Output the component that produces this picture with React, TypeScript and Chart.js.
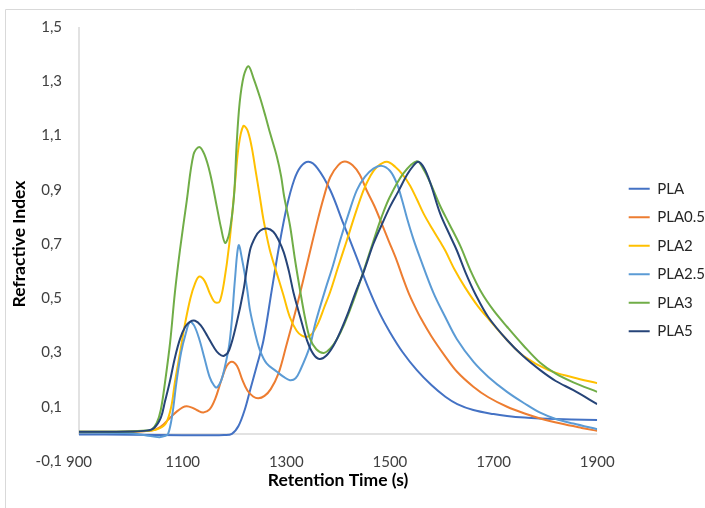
import { useEffect, useRef } from "react";
import { Chart, registerables } from "chart.js";

Chart.register(...registerables);

type Pt = [number, number];

// Retention time (s) vs refractive index, one array per sample
const PLA: Pt[] = [
  [900, -0.002], [1000, -0.003], [1100, -0.005], [1150, -0.005], [1180, -0.004], [1195, 0.0],
  [1208, 0.03], [1220, 0.09], [1230, 0.16], [1243, 0.25], [1256, 0.345], [1272, 0.53],
  [1286, 0.69], [1301, 0.837], [1315, 0.935], [1328, 0.985], [1343, 1.003], [1360, 0.98],
  [1385, 0.898], [1410, 0.776], [1436, 0.65], [1458, 0.54], [1480, 0.445], [1500, 0.375],
  [1525, 0.3], [1552, 0.235], [1580, 0.18], [1607, 0.137], [1630, 0.11], [1661, 0.088],
  [1700, 0.073], [1726, 0.066], [1760, 0.06], [1790, 0.057], [1850, 0.053], [1900, 0.051],
];

const PLA05: Pt[] = [
  [900, 0.005], [1000, 0.008], [1040, 0.012], [1052, 0.02], [1063, 0.035], [1076, 0.06],
  [1089, 0.083], [1100, 0.098], [1108, 0.102], [1118, 0.097], [1128, 0.087], [1140, 0.079],
  [1152, 0.09], [1163, 0.13], [1175, 0.2], [1185, 0.25], [1195, 0.266], [1205, 0.25],
  [1215, 0.2], [1225, 0.16], [1236, 0.138], [1246, 0.131], [1258, 0.14], [1270, 0.165],
  [1285, 0.223], [1300, 0.325], [1320, 0.468], [1340, 0.625], [1359, 0.776], [1372, 0.87],
  [1385, 0.947], [1400, 0.99], [1413, 1.004], [1428, 0.99], [1442, 0.955], [1455, 0.898],
  [1470, 0.84], [1484, 0.776], [1498, 0.71], [1513, 0.64], [1525, 0.575], [1536, 0.52],
  [1548, 0.47], [1560, 0.425], [1580, 0.36], [1607, 0.285], [1630, 0.228], [1661, 0.174],
  [1690, 0.135], [1726, 0.1], [1760, 0.075], [1790, 0.057], [1830, 0.038], [1870, 0.022],
  [1900, 0.011],
];

const PLA2: Pt[] = [
  [900, 0.008], [1000, 0.009], [1040, 0.012], [1055, 0.02], [1068, 0.04], [1078, 0.1],
  [1085, 0.19], [1095, 0.3], [1104, 0.4], [1115, 0.5], [1124, 0.555], [1132, 0.58],
  [1142, 0.565], [1152, 0.52], [1160, 0.49], [1166, 0.483], [1172, 0.49], [1180, 0.56],
  [1190, 0.7], [1200, 0.9], [1208, 1.06], [1217, 1.135], [1225, 1.12], [1233, 1.06],
  [1240, 0.98], [1249, 0.874], [1256, 0.79], [1268, 0.68], [1282, 0.59], [1294, 0.515],
  [1307, 0.43], [1320, 0.38], [1330, 0.362], [1340, 0.358], [1350, 0.37], [1362, 0.41],
  [1373, 0.465], [1385, 0.525], [1400, 0.615], [1417, 0.714], [1433, 0.81], [1449, 0.898],
  [1462, 0.95], [1475, 0.984], [1494, 1.003], [1510, 0.985], [1525, 0.955], [1539, 0.915],
  [1552, 0.865], [1565, 0.812], [1582, 0.755], [1597, 0.708], [1607, 0.675], [1625, 0.605],
  [1645, 0.54], [1670, 0.47], [1693, 0.418], [1726, 0.346], [1758, 0.287], [1806, 0.235],
  [1854, 0.208], [1900, 0.187],
];

const PLA25: Pt[] = [
  [900, 0.004], [1000, 0.002], [1030, -0.006], [1055, -0.012], [1065, -0.008], [1072, 0.0],
  [1080, 0.07], [1088, 0.19], [1097, 0.3], [1106, 0.37], [1114, 0.413], [1122, 0.4],
  [1132, 0.35], [1142, 0.28], [1152, 0.21], [1160, 0.18], [1166, 0.171], [1175, 0.2],
  [1183, 0.26], [1190, 0.33], [1195, 0.42], [1201, 0.57], [1208, 0.695], [1215, 0.64],
  [1224, 0.54], [1230, 0.456], [1240, 0.37], [1249, 0.309], [1262, 0.26], [1282, 0.229],
  [1295, 0.21], [1307, 0.198], [1318, 0.205], [1327, 0.235], [1345, 0.32], [1356, 0.407],
  [1375, 0.53], [1390, 0.62], [1404, 0.714], [1420, 0.81], [1436, 0.898], [1452, 0.948],
  [1468, 0.978], [1484, 0.988], [1500, 0.97], [1513, 0.925], [1523, 0.865], [1533, 0.795],
  [1545, 0.72], [1558, 0.65], [1584, 0.52], [1607, 0.43], [1629, 0.35], [1661, 0.266],
  [1690, 0.21], [1726, 0.155], [1760, 0.112], [1790, 0.078], [1820, 0.055], [1854, 0.038],
  [1900, 0.017],
];

const PLA3: Pt[] = [
  [900, 0.008], [1000, 0.009], [1030, 0.012], [1040, 0.015], [1050, 0.04], [1058, 0.09],
  [1066, 0.19], [1076, 0.34], [1085, 0.52], [1095, 0.68], [1108, 0.86], [1121, 1.03],
  [1132, 1.058], [1142, 1.03], [1153, 0.96], [1166, 0.837], [1174, 0.76], [1182, 0.704],
  [1190, 0.74], [1199, 0.874], [1204, 1.06], [1210, 1.22], [1218, 1.32], [1227, 1.355],
  [1237, 1.31], [1249, 1.242], [1260, 1.17], [1269, 1.107], [1282, 1.021], [1290, 0.95],
  [1296, 0.874], [1307, 0.77], [1317, 0.64], [1327, 0.525], [1337, 0.42], [1346, 0.35],
  [1358, 0.312], [1372, 0.298], [1385, 0.315], [1398, 0.35], [1412, 0.405], [1430, 0.493],
  [1450, 0.605], [1468, 0.71], [1484, 0.8], [1500, 0.874], [1526, 0.96], [1552, 1.005],
  [1565, 0.975], [1578, 0.925], [1597, 0.84], [1615, 0.772], [1636, 0.692], [1656, 0.6],
  [1677, 0.52], [1700, 0.455], [1726, 0.395], [1758, 0.325], [1790, 0.262], [1820, 0.222],
  [1854, 0.19], [1900, 0.155],
];

const PLA5: Pt[] = [
  [900, 0.008], [1000, 0.009], [1030, 0.012], [1045, 0.022], [1058, 0.06], [1066, 0.12],
  [1075, 0.19], [1085, 0.28], [1095, 0.35], [1105, 0.395], [1114, 0.413], [1124, 0.417],
  [1135, 0.4], [1148, 0.36], [1160, 0.32], [1170, 0.295], [1180, 0.288], [1190, 0.31],
  [1204, 0.407], [1217, 0.525], [1230, 0.677], [1240, 0.725], [1250, 0.75], [1263, 0.757],
  [1275, 0.745], [1285, 0.715], [1295, 0.67], [1305, 0.6], [1314, 0.52], [1327, 0.43],
  [1340, 0.345], [1352, 0.295], [1364, 0.276], [1377, 0.288], [1391, 0.325], [1405, 0.38],
  [1420, 0.45], [1433, 0.518], [1450, 0.6], [1468, 0.7], [1484, 0.77], [1500, 0.837],
  [1516, 0.893], [1533, 0.955], [1545, 0.988], [1555, 1.003], [1566, 0.98], [1578, 0.925],
  [1597, 0.812], [1615, 0.735], [1629, 0.677], [1647, 0.59], [1665, 0.515], [1690, 0.43],
  [1726, 0.346], [1758, 0.285], [1790, 0.235], [1820, 0.195], [1854, 0.161], [1900, 0.11],
];

const SERIES_NAMES = ["PLA", "PLA0.5", "PLA2", "PLA2.5", "PLA3", "PLA5"];
const SERIES_DATA = [PLA, PLA05, PLA2, PLA25, PLA3, PLA5];
const SERIES_COLORS = ["#4472C4", "#ED7D31", "#FFC000", "#5B9BD5", "#70AD47", "#264478"];

const X_TICKS = [900, 1100, 1300, 1500, 1700, 1900];
const Y_TICKS = [-0.1, 0.1, 0.3, 0.5, 0.7, 0.9, 1.1, 1.3, 1.5];

const X_TITLE = "Retention Time (s)";
const Y_TITLE = "Refractive Index";

const FONT = "Lato, 'Open Sans', sans-serif";
const AXIS_GREY = "#d9d9d9";

// Outer frame, and axis lines crossing at y = 0
const framePlugin = {
  id: "frame",
  beforeDraw(chart: any) {
    const { ctx } = chart;
    const xs = chart.scales.x;
    const ys = chart.scales.y;
    ctx.save();
    ctx.strokeStyle = AXIS_GREY;
    ctx.lineWidth = 1;
    ctx.beginPath();
    ctx.moveTo(5.5, chart.height);
    ctx.lineTo(5.5, 9.5);
    ctx.lineTo(chart.width, 9.5);
    ctx.stroke();

    const left = xs.getPixelForValue(X_TICKS[0]);
    const right = xs.getPixelForValue(X_TICKS[X_TICKS.length - 1]);
    const zero = ys.getPixelForValue(0);
    const top = ys.getPixelForValue(Y_TICKS[Y_TICKS.length - 1]);
    ctx.lineWidth = 1.5;
    ctx.beginPath();
    ctx.moveTo(left, top);
    ctx.lineTo(left, zero);
    ctx.lineTo(right, zero);
    ctx.stroke();
    ctx.restore();
  },
  afterLayout(chart: any) {
    const lg = chart.legend;
    if (!lg) return;
    lg.top += 16;
    lg.bottom += 16;
    lg.left += 18;
    lg.right += 18;
  },
};

export default function App() {
  const canvasRef = useRef<HTMLCanvasElement | null>(null);

  useEffect(() => {
    const canvas = canvasRef.current;
    if (!canvas) return;

    const datasets = SERIES_NAMES.map((name, i) => ({
      label: name,
      data: SERIES_DATA[i].map(([x, y]) => ({ x, y })),
      borderColor: SERIES_COLORS[i],
      backgroundColor: SERIES_COLORS[i],
      borderWidth: 2,
      pointRadius: 0,
      fill: false,
      tension: 0.35,
      order: SERIES_NAMES.length - i,
    }));

    const chart = new Chart(canvas, {
      type: "line",
      data: { datasets },
      plugins: [framePlugin],
      options: {
        animation: false,
        responsive: false,
        devicePixelRatio: 1,
        layout: { padding: { top: 27, bottom: 47, left: 0, right: 8 } },
        plugins: {
          tooltip: { enabled: false },
          legend: {
            position: "right",
            align: "center",
            labels: {
              boxWidth: 21,
              boxHeight: 2,
              padding: 13.5,
              color: "#262626",
              font: { family: FONT, size: 15 },
              sort: (a: any, b: any) => a.datasetIndex - b.datasetIndex,
              generateLabels: (chart: any) =>
                Chart.defaults.plugins.legend.labels
                  .generateLabels(chart)
                  .map((l: any) => ({ ...l, fillStyle: l.strokeStyle, lineWidth: 0 })),
            },
          },
        },
        scales: {
          x: {
            type: "linear",
            position: { y: 0 } as any,
            min: X_TICKS[0],
            max: X_TICKS[X_TICKS.length - 1],
            afterBuildTicks: (s: any) => {
              s.ticks = X_TICKS.map((v) => ({ value: v }));
            },
            afterFit: (s: any) => {
              s.height = 60;
            },
            grid: { display: false, drawTicks: false },
            border: { display: false },
            ticks: {
              padding: 19,
              color: "#404040",
              font: { family: FONT, size: 15 },
              maxRotation: 0,
              callback: (v: any) => String(v),
            },
            title: {
              display: true,
              text: X_TITLE,
              color: "#000000",
              font: { family: FONT, size: 17.5, weight: "bold" },
              padding: { top: 0, bottom: 3 },
            },
          },
          y: {
            type: "linear",
            min: Y_TICKS[0],
            max: Y_TICKS[Y_TICKS.length - 1],
            afterBuildTicks: (s: any) => {
              s.ticks = Y_TICKS.map((v) => ({ value: v }));
            },
            afterFit: (s: any) => {
              s.width = 79;
            },
            grid: { display: false, drawTicks: false },
            border: { display: false },
            ticks: {
              padding: 17,
              color: "#404040",
              font: { family: FONT, size: 15 },
              callback: (v: any) => Number(v).toFixed(1).replace(".", ","),
            },
            title: {
              display: true,
              text: Y_TITLE,
              color: "#000000",
              font: { family: FONT, size: 17.5, weight: "bold" },
              padding: { top: 9, bottom: 0 },
            },
          },
        },
      },
    });

    return () => chart.destroy();
  }, []);

  return (
    <div
      style={{
        position: "fixed",
        left: 0,
        top: 0,
        width: 705,
        height: 508,
        background: "#ffffff",
      }}
    >
      <canvas ref={canvasRef} width={705} height={508} />
    </div>
  );
}
